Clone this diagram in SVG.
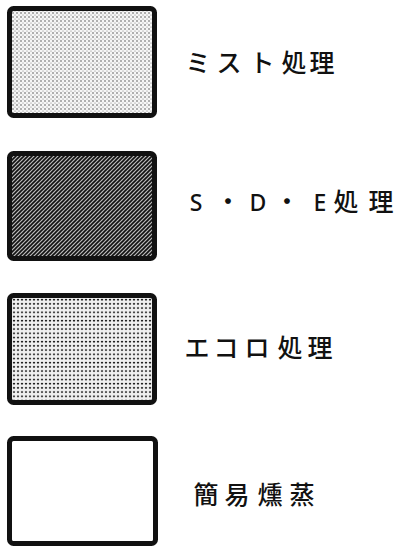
<svg xmlns="http://www.w3.org/2000/svg" width="398" height="547" viewBox="0 0 398 547">
  <defs>
    <pattern id="mist" width="4" height="4" patternUnits="userSpaceOnUse">
      <rect width="4" height="4" fill="#f6f6f6"/>
      <circle cx="1" cy="1" r="0.7" fill="#333"/>
      <circle cx="3" cy="3" r="0.5" fill="#666"/>
    </pattern>
    <pattern id="sde" width="4" height="4" patternUnits="userSpaceOnUse">
      <rect width="4" height="4" fill="#bbbbbb"/>
      <path d="M-1,5 L5,-1 M-1,1 L1,-1 M3,5 L5,3" stroke="#111" stroke-width="1.6"/>
    </pattern>
    <pattern id="eco" width="4" height="4.2" patternUnits="userSpaceOnUse">
      <rect width="4" height="4.2" fill="#f0f0f0"/>
      <ellipse cx="2" cy="1.5" rx="1.2" ry="0.85" fill="#1a1a1a"/>
    </pattern>
  </defs>
  <style>
    .box { stroke: #111; stroke-width: 5; }
    .lbl { font-family: "Noto Sans CJK JP", "Noto Sans", sans-serif; font-size: 25px; font-weight: 500; fill: #111; text-anchor: middle; }
    .lat { font-family: "Noto Sans", "Noto Sans CJK JP", sans-serif; font-size: 23px; font-weight: 500; }
  </style>
  <g id="node-mist">
    <rect class="box" x="9.5" y="8.5" width="145" height="107" rx="4" fill="url(#mist)"/>
    <text class="lbl" x="198 229 262 294 322" y="72">ミスト処理</text>
  </g>
  <g id="node-sde">
    <rect class="box" x="9.5" y="153.5" width="145" height="105" rx="4" fill="url(#sde)"/>
    <text class="lbl" x="196 228 258 287 320 346 381" y="211"><tspan class="lat">S</tspan>・<tspan class="lat">D</tspan>・<tspan class="lat">E</tspan>処理</text>
  </g>
  <g id="node-eco">
    <rect class="box" x="9.5" y="295.5" width="145" height="107" rx="4" fill="url(#eco)"/>
    <text class="lbl" x="197 226 257 290 320" y="357">エコロ処理</text>
  </g>
  <g id="node-kunjo">
    <rect class="box" x="9.5" y="438.5" width="146" height="105" rx="4" fill="#fff"/>
    <text class="lbl" x="206 237 270 302" y="504">簡易燻蒸</text>
  </g>
  <g id="connectors"/>
</svg>
